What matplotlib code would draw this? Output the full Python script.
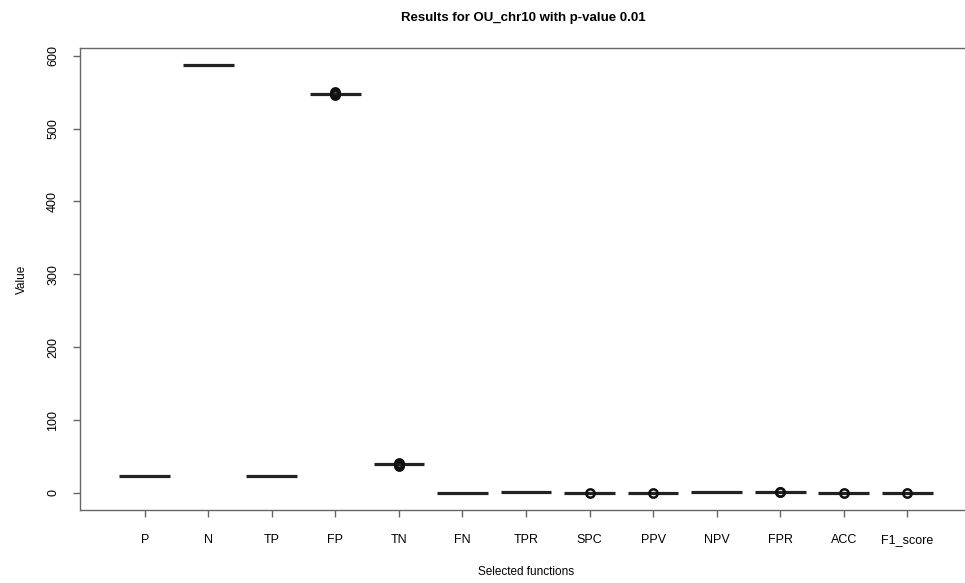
import matplotlib.pyplot as plt
import numpy as np

plt.rcParams['font.family'] = ['Liberation Sans', 'DejaVu Sans']

# one column per selected function; boxes collapse to their median
labels = ['P', 'N', 'TP', 'FP', 'TN', 'FN', 'TPR', 'SPC', 'PPV', 'NPV', 'FPR', 'ACC', 'F1_score']
medians = [23, 587, 23, 548, 39, 0, 1, 0.07, 0.04, 1, 0.93, 0.1, 0.08]
# outliers beyond the (flat) whiskers
outlier_pos = [4, 4, 4, 4, 5, 5, 5, 5, 8, 9, 11, 11, 12, 13]
outlier_val = [546, 547, 549, 550, 37, 38, 40, 41, 0, 0, 1, 0.9, 0, 0]

fig = plt.figure(figsize=(9.65, 5.83), dpi=100)
ax = fig.add_axes([80 / 965, 1 - 510 / 583, 892 / 965, 462 / 583])

pos = np.arange(1, len(labels) + 1)
ax.hlines(medians, pos - 0.4, pos + 0.4, colors='#222222', linewidth=2.3)
ax.plot(outlier_pos, outlier_val, 'o', ms=6, mfc='none', mec='#111111', mew=1.8)

ax.set_xlim(-0.02, 14.02)
ax.set_ylim(-23.5, 610.5)
ax.set_xticks(pos)
ax.set_xticklabels(labels, fontsize=9, va='baseline')
ax.set_yticks(range(0, 601, 100))
ax.set_yticklabels([str(v) for v in range(0, 601, 100)], fontsize=9, rotation=90, va='center')
ax.tick_params(direction='out', length=5, color='#666666', width=1)
ax.tick_params(axis='x', pad=19)
ax.tick_params(axis='y', pad=10)

for s in ax.spines.values():
    s.set_color('#666666')
    s.set_linewidth(1)

ax.set_xlabel('Selected functions', fontsize=8.5, labelpad=14)
ax.set_ylabel('Value', fontsize=8.5, labelpad=14)
fig.text(523 / 965, 1 - 18 / 583, 'Results for OU_chr10 with p-value 0.01',
         ha='center', va='center', fontsize=9.5, fontweight='bold')

fig.savefig('out.png', dpi=100)
